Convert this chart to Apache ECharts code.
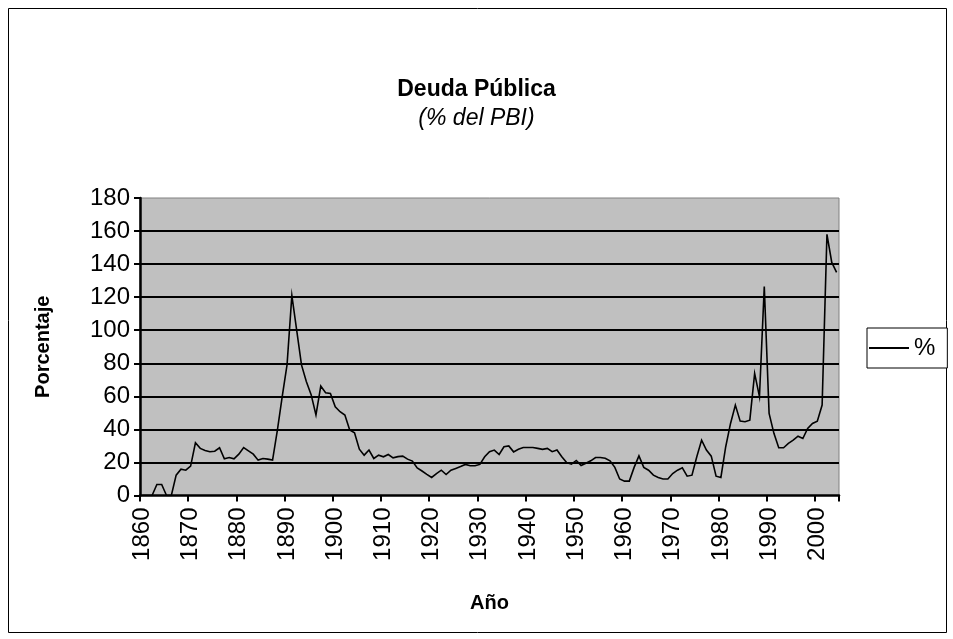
<!DOCTYPE html>
<html>
<head>
<meta charset="utf-8">
<script src="https://cdn.jsdelivr.net/npm/echarts@6/dist/echarts.min.js"></script>
<style>
html,body{margin:0;padding:0;background:#fff;}
#chart{width:953px;height:639px;}
</style>
</head>
<body>
<div id="chart"></div>
<script>
const startYear = 1860;
const debtPct = [
  0,0,0,6.7,6.7,0,0,12.3,15.9,15.3,
  17.8,31.9,28.5,27.2,26.5,26.8,28.9,22.2,23,22.2,
  25,29,27,25,21.4,22.4,22,21.4,39.6,59.8,
  79,121,100,79,69,61,48.7,66.2,62.2,61.8,
  53.7,50.7,48.7,39.6,38,28,24.4,27.5,22.4,24.4,
  23.4,24.8,22.8,23.5,23.8,22,20.8,16.7,14.8,12.8,
  10.9,13.3,15.3,12.7,15.3,16.4,17.5,18.8,18,18,
  18.8,23.4,26.5,27.5,24.8,29.5,30,26.4,28,29,
  29,29,28.5,27.9,28.5,26.5,27.5,23.4,20,19,
  21.2,18.2,19.5,21,23,23,22.5,21,17,10,
  8.7,8.7,17,24,17,15.3,12.3,10.9,10,10,
  13.3,15.3,16.7,11.7,12.3,23.4,33.5,27.5,23.8,11.7,
  10.9,29.5,43.6,54.7,45,44.6,45.6,73.9,59.8,126.4,
  49.7,37.6,28.9,28.9,31.5,33.5,35.9,34.5,40.6,43.6,
  45,54.7,158,141,135
];
const years = debtPct.map((_, i) => String(startYear + i));
const seriesName = '%';
const titleText = 'Deuda Pública';
const subtitleText = '(% del PBI)';
const xName = 'Año';
const yName = 'Porcentaje';

const FONT = '"Liberation Sans", Arial, sans-serif';
const chart = echarts.init(document.getElementById('chart'), null, {renderer: 'canvas'});
chart.setOption({
  backgroundColor: '#ffffff',
  animation: false,
  title: [
    {text: titleText, left: 'center', top: 78, padding: 0,
     textStyle: {fontFamily: FONT, fontSize: 23, fontWeight: 'bold', color: '#000'}},
    {text: subtitleText, left: 'center', top: 107, padding: 0,
     textStyle: {fontFamily: FONT, fontSize: 23, fontStyle: 'italic', fontWeight: 'normal', color: '#000'}}
  ],
  legend: {
    left: 867, top: 328,
    padding: [8, 12, 8, 2],
    borderColor: '#000', borderWidth: 1, backgroundColor: '#fff',
    itemWidth: 40, itemHeight: 14,
    textStyle: {fontFamily: FONT, fontSize: 24, color: '#000'},
    data: [{name: seriesName, icon: 'path://M0,0 L40,0 L40,2 L0,2 Z'}],
    itemStyle: {color: '#000'}
  },
  grid: {
    left: 140, top: 198, width: 699, height: 297.5,
    show: true, backgroundColor: '#C0C0C0', borderColor: '#808080', borderWidth: 1,
    containLabel: false
  },
  xAxis: {
    type: 'category',
    data: years,
    boundaryGap: true,
    name: xName, nameLocation: 'middle', nameGap: 98,
    nameTextStyle: {fontFamily: FONT, fontSize: 20, fontWeight: 'bold', color: '#000'},
    axisLine: {show: true, lineStyle: {color: '#000', width: 2.5}},
    axisTick: {show: true, interval: 9, length: 6, lineStyle: {color: '#000', width: 2}},
    axisLabel: {interval: 9, rotate: 90, margin: 12, fontFamily: FONT, fontSize: 24, color: '#000'},
    splitLine: {show: false}
  },
  yAxis: {
    type: 'value', min: 0, max: 180, interval: 20,
    name: yName, nameLocation: 'middle', nameGap: 87, nameRotate: 90,
    nameTextStyle: {fontFamily: FONT, fontSize: 20, fontWeight: 'bold', color: '#000'},
    axisLine: {show: true, lineStyle: {color: '#000', width: 2.5}},
    axisTick: {show: true, length: 6, lineStyle: {color: '#000', width: 2}},
    axisLabel: {margin: 10, fontFamily: FONT, fontSize: 24, color: '#000'},
    splitLine: {show: true, showMaxLine: false, showMinLine: false, lineStyle: {color: '#000', width: 2}}
  },
  series: [{
    name: seriesName, type: 'line', data: debtPct,
    symbol: 'none', showSymbol: false,
    lineStyle: {color: '#000', width: 1.6, join: 'miter'},
    itemStyle: {color: '#000'}
  }],
  graphic: [{
    type: 'rect', silent: true, z: -10,
    shape: {x: 8.5, y: 8.5, width: 938, height: 624},
    style: {fill: 'none', stroke: '#000', lineWidth: 1}
  }]
});
</script>
</body>
</html>
